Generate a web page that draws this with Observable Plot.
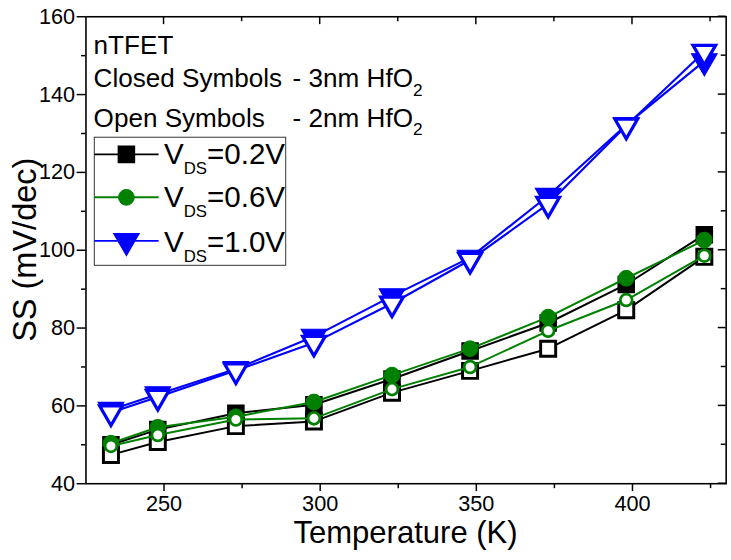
<!DOCTYPE html>
<html>
<head>
<meta charset="utf-8">
<script src="https://cdn.jsdelivr.net/npm/d3@7"></script>
<script src="https://cdn.jsdelivr.net/npm/@observablehq/plot@0.6"></script>
<style>
  html, body { margin: 0; padding: 0; background: #fff; overflow: hidden; }
  #chart svg { display: block; }
</style>
</head>
<body>
<div id="chart"></div>
<script>
// Subthreshold swing of an nTFET versus temperature
const temperature = [233, 248, 273, 298, 323, 348, 373, 398, 423];

// 3nm HfO2 (closed symbols)
const ss_02V_3nm = [50.0, 53.9, 58.1, 60.3, 66.9, 74.1, 81.3, 91.2, 104.0];
const ss_06V_3nm = [50.4, 54.5, 57.2, 61.0, 67.9, 74.7, 82.8, 92.8, 102.6];
const ss_10V_3nm = [59.0, 63.0, 69.5, 77.8, 88.2, 98.1, 114.0, 132.2, 148.6];

// 2nm HfO2 (open symbols)
const ss_02V_2nm = [47.4, 50.7, 54.8, 56.0, 63.4, 69.0, 74.7, 84.6, 98.3];
const ss_06V_2nm = [49.7, 52.5, 56.5, 56.8, 64.3, 70.0, 79.3, 87.2, 98.6];
const ss_10V_2nm = [58.3, 62.3, 69.1, 76.2, 86.3, 97.5, 111.9, 132.0, 151.0];

const vdsLabels = ["0.2V", "0.6V", "1.0V"];

const xMajorTicks = [250, 300, 350, 400];
const xMinorTicks = [275, 325, 375, 425];
const yMajorTicks = [40, 60, 80, 100, 120, 140, 160];
const yMinorTicks = [50, 70, 90, 110, 130, 150];

const FONT = '"Liberation Sans", Arial, Helvetica, sans-serif';

// per-bias styling: colour and marker shape
const biasStyle = {
  "0.2V": {color: "#000000", symbol: "square"},
  "0.6V": {color: "#008000", symbol: "circle"},
  "1.0V": {color: "#0000ff", symbol: "triangle"}
};
const markerSize = {
  square:   {closed: {r: 9.2, sw: 1.5}, open: {r: 8.6, sw: 3}},
  circle:   {closed: {r: 8.0, sw: 1},   open: {r: 6.0, sw: 2.8}},
  triangle: {closed: {r: 9.6, sw: 1.2}, open: {r: 8.5, sw: 3.3}}
};

// long-format rows, one table per curve (drawn in this order)
const curves = [
  {vds: "0.2V", oxide: "3nm", values: ss_02V_3nm},
  {vds: "0.2V", oxide: "2nm", values: ss_02V_2nm},
  {vds: "0.6V", oxide: "3nm", values: ss_06V_3nm},
  {vds: "0.6V", oxide: "2nm", values: ss_06V_2nm},
  {vds: "1.0V", oxide: "3nm", values: ss_10V_3nm},
  {vds: "1.0V", oxide: "2nm", values: ss_10V_2nm}
].map(c => ({...c, rows: temperature.map((t, i) => ({T: t, SS: c.values[i]}))}));

const curveMarks = curves.flatMap(c => {
  const st = biasStyle[c.vds];
  const open = c.oxide === "2nm";
  const ms = markerSize[st.symbol][open ? "open" : "closed"];
  return [
    Plot.line(c.rows, {x: "T", y: "SS", stroke: st.color, strokeWidth: st.symbol === "triangle" ? 2.2 : 2}),
    Plot.dot(c.rows, {
      x: "T", y: "SS", symbol: st.symbol, r: ms.r,
      fill: open ? "white" : st.color, stroke: st.color, strokeWidth: ms.sw,
      rotate: st.symbol === "triangle" ? 180 : 0
    })
  ];
});

function symbolPath(type, r) {
  const sym = {square: d3.symbolSquare, circle: d3.symbolCircle, triangle: d3.symbolTriangle}[type];
  return d3.symbol(sym, Math.PI * r * r)();
}

// inward ticks on the top and right edges, axis titles and the in-plot key
function decorations(index, scales, values, dims) {
  const x = scales.x, y = scales.y;
  const left = dims.marginLeft, right = dims.width - dims.marginRight;
  const top = dims.marginTop, bottom = dims.height - dims.marginBottom;
  const g = d3.create("svg:g").attr("font-family", FONT).attr("fill", "black").attr("text-anchor", "start");

  const ticks = g.append("g").attr("stroke", "black").attr("stroke-width", 1.5);
  xMajorTicks.forEach(v => ticks.append("line").attr("x1", x(v)).attr("x2", x(v)).attr("y1", top).attr("y2", top + 8));
  xMinorTicks.forEach(v => ticks.append("line").attr("x1", x(v)).attr("x2", x(v)).attr("y1", top).attr("y2", top + 5));
  yMajorTicks.forEach(v => ticks.append("line").attr("y1", y(v)).attr("y2", y(v)).attr("x1", right).attr("x2", right - 8));
  yMinorTicks.forEach(v => ticks.append("line").attr("y1", y(v)).attr("y2", y(v)).attr("x1", right).attr("x2", right - 5));

  // axis titles
  g.append("text").attr("x", (left + right) / 2).attr("y", 551)
    .attr("text-anchor", "middle").attr("font-size", 31.5).text("Temperature (K)");
  g.append("text").attr("transform", `translate(37,${(top + bottom) / 2}) rotate(-90)`)
    .attr("text-anchor", "middle").attr("font-size", 33).text("SS (mV/dec)");

  // heading lines
  const hx = 95, dashX = 297;
  g.append("text").attr("x", hx).attr("y", 55).attr("font-size", 26.5).text("nTFET");
  [["Closed Symbols", "- 3nm HfO", 88.5], ["Open Symbols", "- 2nm HfO", 128.5]].forEach(([a, b, by]) => {
    const t = g.append("text").attr("y", by).attr("font-size", 26.5);
    t.append("tspan").attr("x", hx).text(a);
    t.append("tspan").attr("x", dashX).text(b);
    t.append("tspan").attr("font-size", 17.5).attr("dy", 9).text("2");
  });

  // key box
  const kx0 = 95.7, kx1 = 290, ky0 = 139.3, ky1 = 269.3;
  g.append("rect").attr("x", kx0).attr("y", ky0).attr("width", kx1 - kx0).attr("height", ky1 - ky0)
    .attr("fill", "none").attr("stroke", "#333").attr("stroke-width", 1);
  const rowY = [156.7, 200.3, 244.5];
  vdsLabels.forEach((lab, i) => {
    const st = biasStyle[lab];
    const ms = markerSize[st.symbol].closed;
    const yy = rowY[i];
    g.append("line").attr("x1", kx0).attr("x2", 161).attr("y1", yy).attr("y2", yy)
      .attr("stroke", st.color).attr("stroke-width", 2);
    g.append("path").attr("d", symbolPath(st.symbol, ms.r))
      .attr("transform", `translate(128.3,${yy})` + (st.symbol === "triangle" ? " rotate(180)" : ""))
      .attr("fill", st.color).attr("stroke", st.color).attr("stroke-width", ms.sw);
    const t = g.append("text").attr("x", 166.5).attr("y", [166.7, 210.3, 256][i]).attr("font-size", 30);
    t.append("tspan").text("V");
    t.append("tspan").attr("font-size", 17).attr("dy", 10).text("DS");
    t.append("tspan").attr("dy", -10).text("=" + lab);
  });
  return g.node();
}

const chart = Plot.plot({
  width: 742,
  height: 560,
  marginLeft: 86.75,
  marginRight: 5.4,
  marginTop: 16.5,
  marginBottom: 69.5,
  style: {fontFamily: FONT, background: "white", color: "black"},
  x: {domain: [225, 430]},
  y: {domain: [40, 160]},
  marks: [
    Plot.axisX(xMajorTicks, {anchor: "bottom", tickSize: 8, tickPadding: 4, fontSize: 22, strokeWidth: 1.5, label: null, tickFormat: d => String(d)}),
    Plot.axisX(xMinorTicks, {anchor: "bottom", tickSize: 5, strokeWidth: 1.5, label: null, tickFormat: () => ""}),
    Plot.axisY(yMajorTicks, {anchor: "left", tickSize: 9, tickPadding: 2, fontSize: 22, strokeWidth: 1.5, label: null, tickFormat: d => String(d)}),
    Plot.axisY(yMinorTicks, {anchor: "left", tickSize: 4.5, strokeWidth: 1.5, label: null, tickFormat: () => ""}),
    ...curveMarks,
    Plot.frame({stroke: "black", strokeWidth: 1.6}),
    decorations
  ]
});
document.getElementById("chart").appendChild(chart);
</script>
</body>
</html>
